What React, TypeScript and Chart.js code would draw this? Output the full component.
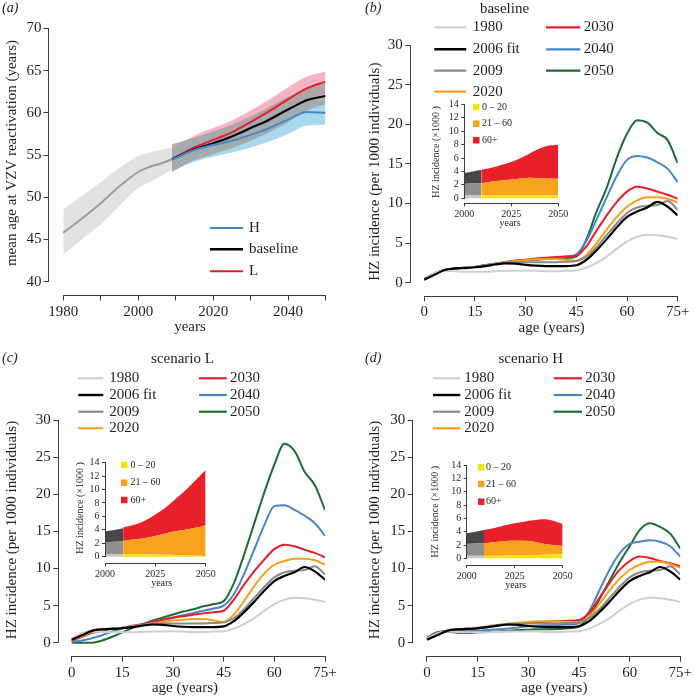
import React, { useEffect, useRef } from 'react';
import { Chart, registerables } from 'chart.js';
Chart.register(...registerables);

const SERIF = '"Liberation Serif", "Times New Roman", Times, serif';
const INK = '#231f20';
const AXIS = '#3a3a3a';

// ---------------- Panel (a): mean age at VZV reactivation ----------------
const histYears = [1980, 1985, 1990, 1995, 2000, 2003, 2006, 2009];
const histMean = [45.8, 47.5, 49.3, 51.3, 53.0, 53.6, 54.0, 54.5];
const histLow = [43.2, 45.0, 46.8, 49.0, 51.1, 51.8, 52.5, 53.3];
const histHigh = [48.6, 50.2, 51.8, 53.5, 54.9, 55.3, 55.6, 55.9];

const projYears = [2009, 2015, 2020, 2025, 2030, 2035, 2040, 2045, 2050];
const baseMean = [54.5, 55.7, 56.4, 57.2, 58.2, 59.2, 60.4, 61.5, 62.0];
const baseLow = [53.0, 54.4, 55.1, 55.8, 56.7, 57.7, 58.9, 60.3, 61.0];
const baseHigh = [56.3, 57.1, 57.8, 58.6, 59.6, 60.7, 61.9, 62.9, 63.5];
const lMean = [54.5, 55.9, 56.8, 57.7, 58.9, 60.2, 61.6, 62.9, 63.7];
const lLow = [53.2, 54.6, 55.5, 56.4, 57.6, 58.9, 60.3, 61.6, 62.4];
const lHigh = [55.8, 57.3, 58.2, 59.1, 60.3, 61.6, 63.0, 64.3, 64.9];
const hMean = [54.5, 55.6, 56.2, 56.7, 57.4, 58.2, 59.2, 60.1, 60.0];
const hLow = [53.2, 54.2, 54.8, 55.3, 55.9, 56.6, 57.5, 58.5, 58.6];
const hHigh = [55.8, 56.9, 57.5, 58.1, 58.8, 59.7, 60.8, 61.6, 61.4];

const yearTicksA = [1980, 1990, 2000, 2010, 2020, 2030, 2040, 2050];
const yearLabelsA = [1980, 2000, 2020, 2040];
const meanAgeTicks = [40, 45, 50, 55, 60, 65, 70];
const legendA = ['H', 'baseline', 'L'];

// ---------------- Panels (b)-(d): HZ incidence by age ----------------
const ages = [0, 3, 6, 9, 12, 15, 18, 21, 24, 27, 30, 33, 36, 39, 42, 45, 48, 51, 54, 57, 60, 63, 66, 69, 72, 75];
const ageTicks = [0, 15, 30, 45, 60, 75];
const incTicks = [0, 5, 10, 15, 20, 25, 30];
const seriesLabels = ['1980', '2006 fit', '2009', '2020', '2030', '2040', '2050'];

const inc1980 = [0.5, 1.2, 1.5, 1.45, 1.4, 1.4, 1.4, 1.45, 1.5, 1.5, 1.55, 1.5, 1.45, 1.45, 1.5, 1.55, 1.9, 2.5, 3.3, 4.3, 5.2, 5.8, 6.05, 6.0, 5.8, 5.5];
const inc2006fit = [0.4, 1.0, 1.6, 1.8, 1.85, 1.95, 2.1, 2.3, 2.45, 2.4, 2.25, 2.15, 2.1, 2.1, 2.1, 2.2, 2.9, 4.1, 5.5, 7.0, 8.3, 9.0, 9.5, 10.2, 9.6, 8.5];
const inc2009 = [0.5, 1.2, 1.6, 1.8, 1.9, 2.0, 2.2, 2.4, 2.55, 2.6, 2.6, 2.6, 2.6, 2.6, 2.65, 2.75, 3.3, 4.5, 6.0, 7.5, 8.8, 9.5, 9.7, 9.8, 10.3, 9.2];

const base2020 = [0.5, 1.2, 1.6, 1.8, 1.9, 2.0, 2.2, 2.4, 2.6, 2.75, 2.85, 2.95, 3.0, 3.0, 2.9, 2.75, 3.5, 5.0, 6.7, 8.3, 9.6, 10.4, 10.8, 10.8, 10.6, 10.1];
const base2030 = [0.4, 1.1, 1.6, 1.8, 1.9, 2.0, 2.2, 2.4, 2.6, 2.8, 2.9, 3.05, 3.15, 3.25, 3.3, 3.4, 4.6, 6.6, 8.5, 10.2, 11.5, 12.1, 11.9, 11.5, 11.1, 10.6];
const base2040 = [0.4, 1.1, 1.6, 1.8, 1.9, 2.0, 2.2, 2.4, 2.6, 2.75, 2.85, 2.95, 3.05, 3.15, 3.3, 3.6, 5.3, 8.0, 10.8, 13.5, 15.5, 16.0, 15.8, 15.2, 14.4, 12.7];
const base2050 = [0.4, 1.1, 1.6, 1.8, 1.9, 2.0, 2.2, 2.4, 2.6, 2.7, 2.8, 2.9, 3.0, 3.05, 3.1, 3.3, 5.5, 9.0, 12.0, 15.8, 18.8, 20.5, 20.2, 18.9, 18.0, 15.1];

const L2020 = [0.3, 0.9, 1.4, 1.7, 1.9, 2.0, 2.2, 2.4, 2.6, 2.8, 3.0, 3.1, 3.2, 3.2, 3.0, 2.8, 3.8, 5.6, 7.6, 9.3, 10.5, 11.0, 11.3, 11.3, 11.1, 10.5];
const L2030 = [0.2, 0.8, 1.3, 1.6, 1.9, 2.0, 2.3, 2.5, 2.8, 3.1, 3.35, 3.55, 3.75, 3.95, 4.1, 4.3, 5.8, 7.8, 9.6, 11.2, 12.6, 13.2, 13.0, 12.5, 12.1, 11.5];
const L2040 = [0.1, 0.3, 0.6, 1.0, 1.5, 1.9, 2.2, 2.5, 2.8, 3.1, 3.4, 3.7, 4.0, 4.3, 4.6, 5.0, 6.5, 9.2, 12.5, 15.8, 18.4, 18.5, 17.9, 17.1, 16.1, 14.4];
const L2050 = [0.0, 0.0, 0.0, 0.3, 0.8, 1.4, 2.0, 2.5, 3.0, 3.4, 3.8, 4.2, 4.5, 4.9, 5.2, 5.6, 8.0, 11.8, 16.0, 20.2, 24.0, 26.8, 25.8, 23.0, 21.2, 17.9];

const H2020 = [0.5, 1.2, 1.6, 1.8, 1.9, 2.0, 2.2, 2.4, 2.55, 2.7, 2.8, 2.9, 2.9, 2.85, 2.8, 2.75, 3.5, 5.2, 7.0, 8.6, 9.8, 10.5, 10.9, 10.9, 10.6, 10.1];
const H2030 = [0.5, 1.3, 1.6, 1.7, 1.8, 1.9, 2.1, 2.3, 2.45, 2.55, 2.65, 2.75, 2.85, 2.9, 2.95, 3.05, 4.0, 6.0, 8.0, 9.8, 11.0, 11.6, 11.4, 11.0, 10.7, 10.3];
const H2040 = [0.7, 1.4, 1.6, 1.55, 1.55, 1.6, 1.7, 1.8, 1.9, 2.05, 2.2, 2.3, 2.35, 2.4, 2.45, 2.6, 4.2, 7.0, 9.8, 12.0, 13.3, 13.6, 13.8, 13.6, 13.0, 11.6];
const H2050 = [0.6, 1.4, 1.5, 1.35, 1.3, 1.4, 1.45, 1.5, 1.6, 1.7, 1.75, 1.8, 1.8, 1.85, 1.95, 2.2, 3.5, 5.8, 8.3, 10.8, 13.0, 15.2, 16.1, 15.6, 14.7, 12.7];

// ---------------- Insets: HZ incidence (x1000) by age group ----------------
const insetGroups = ['0 – 20', '21 – 60', '60+'];
const insetTicksX = [2000, 2025, 2050];
const insetTicksY = [0, 2, 4, 6, 8, 10, 12, 14];
const insetHistYears = [2000, 2009];
const histYoung = [0.4, 0.4];
const histMid = [1.75, 1.85];
const histOld = [1.6, 2.0];
const insetYears = [2009, 2015, 2020, 2025, 2030, 2035, 2040, 2045, 2050];
const baseYoung = [0.45, 0.45, 0.45, 0.45, 0.45, 0.45, 0.45, 0.45, 0.45];
const baseMid = [1.8, 2.05, 2.2, 2.35, 2.5, 2.6, 2.55, 2.5, 2.45];
const baseOld = [2.0, 2.1, 2.35, 2.6, 3.05, 3.65, 4.4, 4.9, 5.05];
const lYoung = [0.4, 0.38, 0.35, 0.32, 0.28, 0.25, 0.2, 0.15, 0.12];
const lMid = [1.95, 2.22, 2.45, 2.78, 3.17, 3.55, 3.8, 4.15, 4.58];
const lOld = [2.0, 2.2, 2.6, 3.2, 3.85, 4.8, 5.9, 7.1, 8.2];
const hYoung = [0.35, 0.38, 0.42, 0.45, 0.48, 0.5, 0.55, 0.58, 0.6];
const hMid = [1.9, 2.07, 2.18, 2.2, 2.17, 2.0, 1.65, 1.42, 1.25];
const hOld = [2.0, 2.15, 2.35, 2.6, 2.85, 3.2, 3.65, 3.65, 3.3];

// ---------------- Styles ----------------
const SERIES_COLORS = ['#cfcfcf', '#000000', '#8a8a8a', '#f6a01a', '#e3202a', '#4a86c6', '#1d6b36'];
const SERIES_WIDTHS = [2, 2.2, 2, 2, 2, 2, 2];
const A_COLORS = { hist: '#9a9a9a', H: '#4a86c6', base: '#000000', L: '#e3202a' };
const A_BANDS = { hist: '#e2e2e2', H: '#a8d8ec', L: '#f3b5c4', base: 'rgba(160,160,160,0.8)' };
const GROUP_COLORS = ['#f0e418', '#f6a21d', '#e8202a'];
const HIST_COLORS = ['#c8c8c8', '#8f8f8f', '#474747'];

// ---------------- helpers ----------------
const pts = (xs: number[], ys: number[]) => xs.map((x, i) => ({ x, y: ys[i] }));
const cum = (...arrs: number[][]) => arrs[0].map((_, i) => arrs.reduce((s, a) => s + a[i], 0));
const alignPx = (p: number) => Math.round(p - 0.5) + 0.5;

function txt(ctx: CanvasRenderingContext2D, s: string, x: number, y: number, size: number,
  o: { align?: CanvasTextAlign; rot?: number; italic?: boolean } = {}) {
  ctx.save();
  ctx.font = `${o.italic ? 'italic ' : ''}${size}px ${SERIF}`;
  ctx.fillStyle = INK;
  ctx.textAlign = o.align || 'center';
  ctx.textBaseline = 'middle';
  ctx.translate(x, y);
  if (o.rot) ctx.rotate(o.rot);
  ctx.fillText(s, 0, 0);
  ctx.restore();
}
function legLine(ctx: CanvasRenderingContext2D, x1: number, x2: number, y: number, color: string, w: number, label: string, tx: number, size: number) {
  ctx.save();
  ctx.strokeStyle = color; ctx.lineWidth = w; ctx.lineCap = 'butt';
  ctx.beginPath(); ctx.moveTo(x1, y); ctx.lineTo(x2, y); ctx.stroke();
  ctx.restore();
  txt(ctx, label, tx, y, size, { align: 'left' });
}
function legBox(ctx: CanvasRenderingContext2D, x: number, y: number, s: number, color: string, label: string, tx: number) {
  ctx.save(); ctx.fillStyle = color; ctx.fillRect(x, y - s / 2, s, s); ctx.restore();
  txt(ctx, label, tx, y, 10, { align: 'left' });
}

const rAxes = {
  id: 'rAxes',
  afterDraw(chart: any) {
    const { ctx, chartArea } = chart;
    const xs = chart.scales.x, ys = chart.scales.y;
    const xt = xs.ticks, yt = ys.ticks;
    ctx.save();
    ctx.strokeStyle = AXIS; ctx.lineWidth = 1;
    const x1 = alignPx(xs.getPixelForValue(xt[0].value));
    const x2 = alignPx(xs.getPixelForValue(xt[xt.length - 1].value));
    const yb = alignPx(chartArea.bottom);
    ctx.beginPath(); ctx.moveTo(x1 - 0.5, yb); ctx.lineTo(x2 + 0.5, yb); ctx.stroke();
    const y1 = alignPx(ys.getPixelForValue(yt[0].value));
    const y2 = alignPx(ys.getPixelForValue(yt[yt.length - 1].value));
    const xl = alignPx(chartArea.left);
    ctx.beginPath(); ctx.moveTo(xl, y1 + 0.5); ctx.lineTo(xl, y2 - 0.5); ctx.stroke();
    ctx.restore();
  },
};

type Box = { l: number; t: number; r: number; b: number };
interface Spec {
  key: string; left: number; top: number; w: number; h: number; area: Box;
  xMin: number; xMax: number; yMin: number; yMax: number;
  xTicks: number[]; yTicks: number[]; xLabel: (v: number) => string;
  font: number; tickLen: number; xPad: number; yPad: number;
  datasets: any[]; decor: (ctx: CanvasRenderingContext2D) => void;
}

function buildConfig(s: Spec): any {
  const tickFont = { family: SERIF, size: s.font };
  return {
    type: 'line',
    data: { datasets: s.datasets },
    options: {
      responsive: false, animation: false, devicePixelRatio: 1, events: [],
      layout: { padding: { left: 0, top: s.area.t, right: s.w - s.area.r, bottom: 0 } },
      plugins: { legend: { display: false }, tooltip: { enabled: false }, title: { display: false } },
      elements: { point: { radius: 0 } },
      scales: {
        x: {
          type: 'linear', min: s.xMin, max: s.xMax,
          afterBuildTicks: (sc: any) => { sc.ticks = s.xTicks.map((v) => ({ value: v })); },
          afterFit: (sc: any) => { sc.height = s.h - s.area.b; sc.paddingLeft = 0; sc.paddingRight = 0; },
          ticks: { callback: (v: number) => s.xLabel(v), font: tickFont, color: INK, padding: s.xPad, maxRotation: 0, autoSkip: false },
          grid: { display: true, drawOnChartArea: false, drawTicks: true, tickLength: s.tickLen, color: AXIS },
          border: { display: false },
        },
        y: {
          type: 'linear', min: s.yMin, max: s.yMax,
          afterBuildTicks: (sc: any) => { sc.ticks = s.yTicks.map((v) => ({ value: v })); },
          afterFit: (sc: any) => { sc.width = s.area.l; sc.paddingTop = 0; sc.paddingBottom = 0; },
          ticks: { callback: (v: number) => String(v), font: tickFont, color: INK, padding: s.yPad, autoSkip: false },
          grid: { display: true, drawOnChartArea: false, drawTicks: true, tickLength: s.tickLen, color: AXIS },
          border: { display: false },
        },
      },
    },
    plugins: [rAxes, { id: 'decor', afterDraw: (chart: any) => s.decor(chart.ctx) }],
  };
}

const lineDs = (xs: number[], ys: number[], color: string, width: number, order = 1) => ({
  data: pts(xs, ys), borderColor: color, borderWidth: width, pointRadius: 0, fill: false,
  cubicInterpolationMode: 'monotone', borderJoinStyle: 'round', borderCapStyle: 'butt', order,
});
const bandDs = (xs: number[], ys: number[], fillColor: string | null) => ({
  data: pts(xs, ys), borderWidth: 0, borderColor: 'rgba(0,0,0,0)', pointRadius: 0,
  backgroundColor: fillColor || 'rgba(0,0,0,0)', fill: fillColor ? '-1' : false,
  cubicInterpolationMode: 'monotone', order: 5,
});

// ---------------- Panel (a) spec ----------------
const specA: Spec = {
  key: 'a', left: 0, top: 0, w: 347, h: 340,
  area: { l: 48.5, t: 28.5, r: 325.5, b: 295.5 },
  xMin: 1976.05, xMax: 2050, yMin: 38.37, yMax: 70,
  xTicks: yearTicksA, yTicks: meanAgeTicks,
  xLabel: (v) => (yearLabelsA.includes(v) ? String(v) : ''),
  font: 15, tickLen: 5, xPad: 3, yPad: 2,
  datasets: [
    lineDs(projYears, hMean, A_COLORS.H, 2),
    lineDs(projYears, baseMean, A_COLORS.base, 2.2),
    lineDs(projYears, lMean, A_COLORS.L, 2),
    lineDs(histYears, histMean, A_COLORS.hist, 2),
    bandDs(projYears, baseLow, null),
    bandDs(projYears, baseHigh, A_BANDS.base),
    bandDs(projYears, hLow, null),
    bandDs(projYears, hHigh, A_BANDS.H),
    bandDs(projYears, lLow, null),
    bandDs(projYears, lHigh, A_BANDS.L),
    bandDs(histYears, histLow, null),
    bandDs(histYears, histHigh, A_BANDS.hist),
  ],
  decor: (ctx) => {
    txt(ctx, '(a)', 2, 8.5, 14, { align: 'left', italic: true });
    txt(ctx, 'mean age at VZV reactivation (years)', 12, 153, 15, { rot: -Math.PI / 2 });
    txt(ctx, 'years', 190, 327, 15);
    const cols = [A_COLORS.H, A_COLORS.base, A_COLORS.L];
    const ys = [228, 249.3, 271.3];
    legendA.forEach((lab, i) => legLine(ctx, 210, 243, ys[i], cols[i], i === 1 ? 2.4 : 2, lab, 249, 15));
  },
};

// ---------------- Panels (b)-(d) ----------------
function incDatasets(series: number[][]) {
  return series.map((ys, i) => lineDs(ages, ys, SERIES_COLORS[i], SERIES_WIDTHS[i], i === 1 ? 0 : 1));
}
function incDecor(o: { letter: string; lx: number; ly: number; title: string; tx: number; ty: number;
  left: [number, number, number]; right: [number, number, number]; rows: number[];
  yx: number; yy: number; ax: number; ay: number }) {
  return (ctx: CanvasRenderingContext2D) => {
    txt(ctx, o.letter, o.lx, o.ly, 14, { align: 'left', italic: true });
    txt(ctx, o.title, o.tx, o.ty, 15);
    seriesLabels.forEach((lab, i) => {
      const col = i < 4 ? o.left : o.right;
      const row = i < 4 ? i : i - 4;
      legLine(ctx, col[0], col[1], o.rows[row], SERIES_COLORS[i], SERIES_WIDTHS[i] + 0.2, lab, col[2], 15);
    });
    txt(ctx, 'HZ incidence (per 1000 individuals)', o.yx, o.yy, 15, { rot: -Math.PI / 2 });
    txt(ctx, 'age (years)', o.ax, o.ay, 15);
  };
}
const ageLabel = (v: number) => (v === 75 ? '75+' : String(v));

const specB: Spec = {
  key: 'b', left: 347, top: 0, w: 347, h: 340,
  area: { l: 63.3, t: 45, r: 330.7, b: 296.2 },
  xMin: -4.15, xMax: 75, yMin: -1.7, yMax: 30,
  xTicks: ageTicks, yTicks: incTicks, xLabel: ageLabel,
  font: 15, tickLen: 5, xPad: 2, yPad: 2.5,
  datasets: incDatasets([inc1980, inc2006fit, inc2009, base2020, base2030, base2040, base2050]),
  decor: incDecor({ letter: '(b)', lx: 18, ly: 8.5, title: 'baseline', tx: 157.5, ty: 9,
    left: [87.3, 119.3, 125.7], right: [199, 233.3, 236.7], rows: [27.3, 49.3, 70.7, 91.7],
    yx: 28.3, yy: 171.7, ax: 204.7, ay: 328.3 }),
};
const specC: Spec = {
  key: 'c', left: 0, top: 340, w: 347, h: 356,
  area: { l: 58.3, t: 80, r: 325, b: 316.7 },
  xMin: -3.97, xMax: 75, yMin: -1.886, yMax: 30,
  xTicks: ageTicks, yTicks: incTicks, xLabel: ageLabel,
  font: 15, tickLen: 5, xPad: 2, yPad: 2.5,
  datasets: incDatasets([inc1980, inc2006fit, inc2009, L2020, L2030, L2040, L2050]),
  decor: incDecor({ letter: '(c)', lx: 2, ly: 18.3, title: 'scenario L', tx: 182.5, ty: 19.3,
    left: [78.3, 103.3, 109.3], right: [199, 226.7, 230], rows: [38.3, 55, 71.7, 88.3],
    yx: 11.7, yy: 190, ax: 185, ay: 348 }),
};
const specD: Spec = {
  key: 'd', left: 347, top: 340, w: 347, h: 356,
  area: { l: 65.7, t: 80, r: 333.3, b: 316.7 },
  xMin: -4.23, xMax: 75, yMin: -1.886, yMax: 30,
  xTicks: ageTicks, yTicks: incTicks, xLabel: ageLabel,
  font: 15, tickLen: 5, xPad: 2, yPad: 2.5,
  datasets: incDatasets([inc1980, inc2006fit, inc2009, H2020, H2030, H2040, H2050]),
  decor: incDecor({ letter: '(d)', lx: 18, ly: 18.3, title: 'scenario H', tx: 183.8, ty: 19.3,
    left: [86, 113.3, 117.3], right: [206.7, 235, 238.3], rows: [38.3, 55, 71.7, 88.3],
    yx: 28.3, yy: 190, ax: 207.3, ay: 348 }),
};

// ---------------- Insets ----------------
function areaDs(xs: number[], ys: number[], color: string, first: boolean) {
  return { data: pts(xs, ys), borderWidth: 0, borderColor: 'rgba(0,0,0,0)', pointRadius: 0,
    backgroundColor: color, fill: first ? 'origin' : '-1', cubicInterpolationMode: 'monotone' };
}
function insetDatasets(young: number[], mid: number[], old: number[]) {
  const hist = [cum(histYoung), cum(histYoung, histMid), cum(histYoung, histMid, histOld)];
  const proj = [cum(young), cum(young, mid), cum(young, mid, old)];
  return [
    ...hist.map((ys, i) => areaDs(insetHistYears, ys, HIST_COLORS[i], i === 0)),
    ...proj.map((ys, i) => areaDs(insetYears, ys, GROUP_COLORS[i], i === 0)),
  ];
}
function insetDecor(o: { yx: number; yy: number; ax: number; ay: number; sx: number; tx: number; rows: number[] }) {
  return (ctx: CanvasRenderingContext2D) => {
    txt(ctx, 'HZ incidence (×1000 )', o.yx, o.yy, 10, { rot: -Math.PI / 2 });
    txt(ctx, 'years', o.ax, o.ay, 10);
    insetGroups.forEach((g, i) => legBox(ctx, o.sx, o.rows[i], 6.5, GROUP_COLORS[i], g, o.tx));
  };
}
const insetBase = {
  xMin: 2000, xMax: 2050, yMax: 14, xTicks: insetTicksX, yTicks: insetTicksY,
  xLabel: (v: number) => String(v), font: 10, tickLen: 3, xPad: 2, yPad: 2.5,
};
const specIB: Spec = {
  ...insetBase, key: 'ib', left: 420, top: 95, w: 155, h: 140,
  area: { l: 44.3, t: 9.3, r: 138.3, b: 108.3 }, yMin: -0.745,
  datasets: insetDatasets(baseYoung, baseMid, baseOld),
  decor: insetDecor({ yx: 16.7, yy: 57, ax: 90, ay: 128.3, sx: 53, tx: 62, rows: [12.2, 28.7, 45.3] }),
};
const specIC: Spec = {
  ...insetBase, key: 'ic', left: 60, top: 450, w: 160, h: 145,
  area: { l: 45, t: 12.7, r: 145.7, b: 113.3 }, yMin: -0.983,
  datasets: insetDatasets(lYoung, lMid, lOld),
  decor: insetDecor({ yx: 20, yy: 58, ax: 101.7, ay: 133.3, sx: 61, tx: 70.5, rows: [15, 32.7, 50] }),
};
const specID: Spec = {
  ...insetBase, key: 'id', left: 420, top: 450, w: 160, h: 145,
  area: { l: 46.7, t: 15, r: 142.7, b: 115 }, yMin: -1.0,
  datasets: insetDatasets(hYoung, hMid, hOld),
  decor: insetDecor({ yx: 15, yy: 61.7, ax: 95.7, ay: 135.7, sx: 58, tx: 66, rows: [17.3, 34, 51.7] }),
};

const SPECS = [specA, specB, specC, specD, specIB, specIC, specID];

function ChartBox({ spec }: { spec: Spec }) {
  const ref = useRef<HTMLCanvasElement>(null);
  useEffect(() => {
    const chart = new Chart(ref.current as HTMLCanvasElement, buildConfig(spec));
    return () => chart.destroy();
  }, [spec]);
  return (
    <canvas ref={ref} width={spec.w} height={spec.h}
      style={{ position: 'absolute', left: spec.left, top: spec.top, width: spec.w, height: spec.h }} />
  );
}

export default function App() {
  return (
    <div style={{ position: 'absolute', left: 0, top: 0, width: 694, height: 696, background: '#ffffff', overflow: 'hidden' }}>
      {SPECS.map((s) => <ChartBox key={s.key} spec={s} />)}
    </div>
  );
}
